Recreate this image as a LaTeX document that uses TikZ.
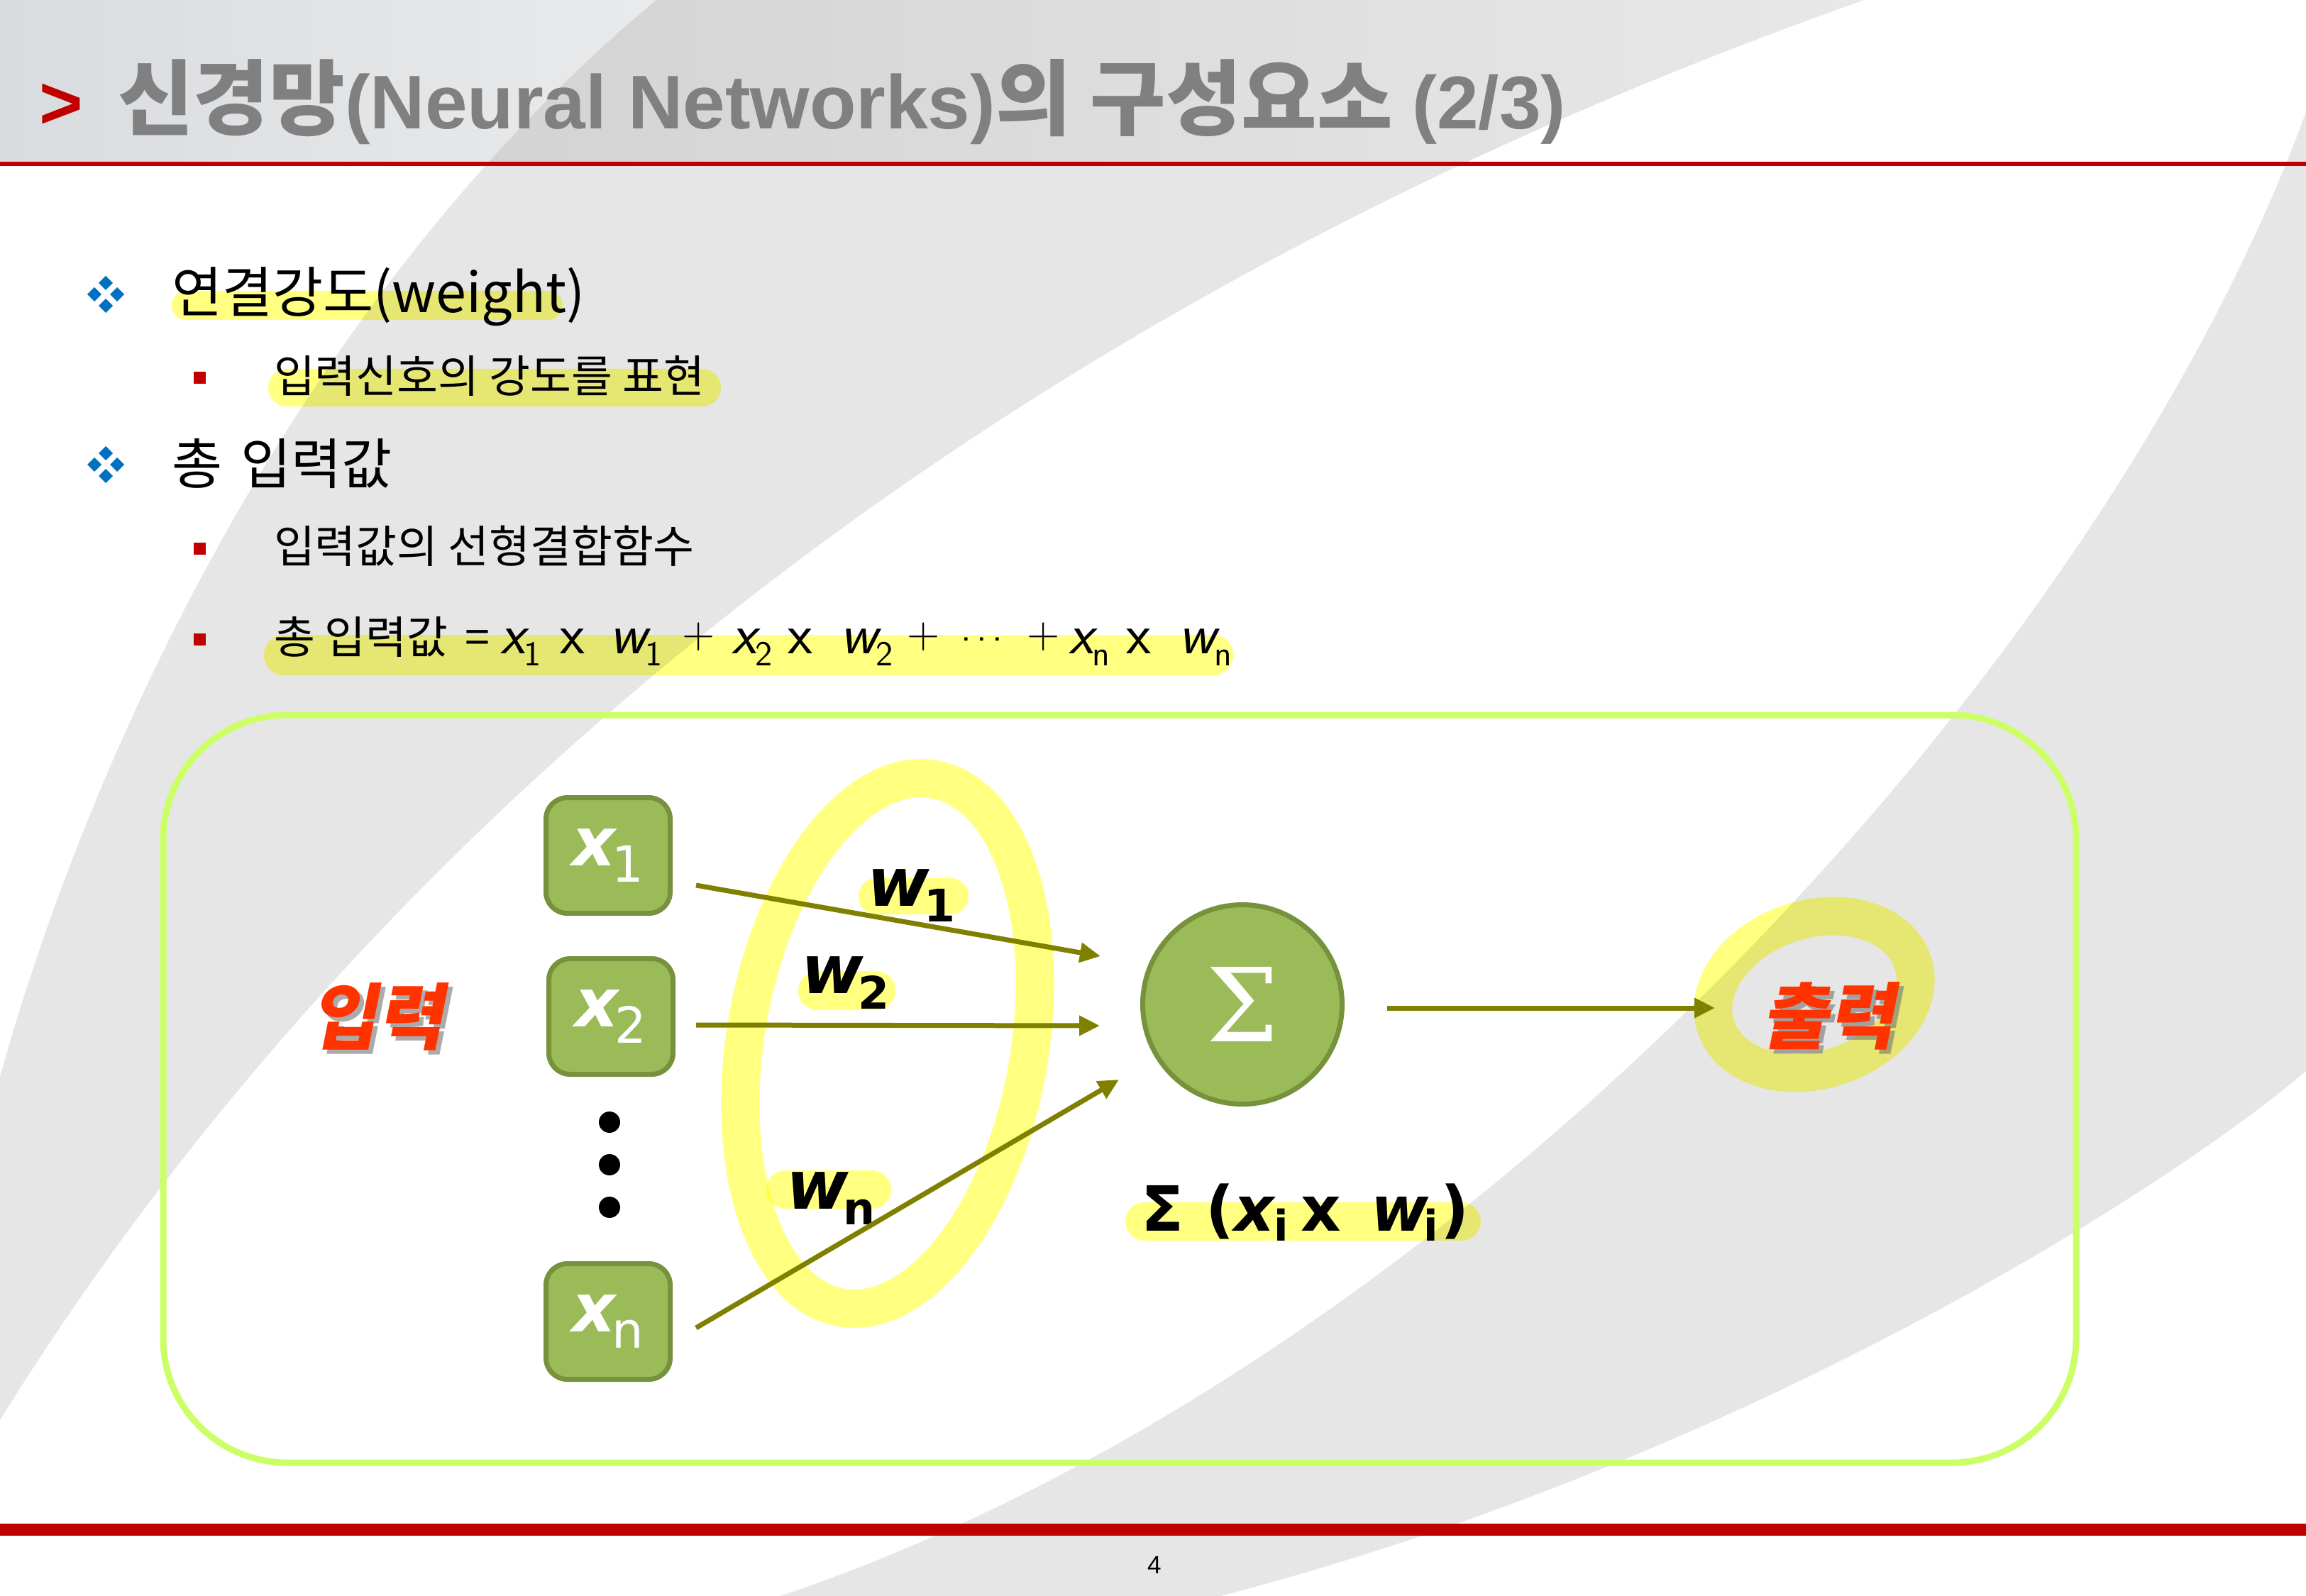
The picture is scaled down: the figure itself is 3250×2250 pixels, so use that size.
\documentclass[tikz,border=0pt]{standalone}
\usepackage{fontspec}
\usetikzlibrary{arrows.meta,calc}

\newfontfamily\kr{Noto Sans CJK KR}
\newfontfamily\krsl{Noto Sans CJK KR}[FakeSlant=0.2]
\newfontfamily\arialf{Liberation Sans}
\newfontfamily\dvs{DejaVu Sans}
\newfontfamily\dvserif{DejaVu Serif}

\newcommand{\fsz}[1]{\fontsize{#1}{#1}\selectfont}
% labels inside the green input boxes and on the weights
\newcommand{\xlab}[1]{{\fsz{27}\dvs\bfseries\itshape x}\kern-1.5pt\raisebox{-6.5pt}{\fsz{20}\dvs #1}}
\newcommand{\wlab}[1]{{\fsz{27}\dvs\bfseries\itshape w}\kern-2pt\raisebox{-6.5pt}{\fsz{18}\dvs\bfseries #1}}
% pieces of the weighted-sum formula
\newcommand{\fvar}[2]{{\fsz{23}\sffamily\itshape #1}\kern-0.5pt\raisebox{-5pt}{\fsz{14}\sffamily #2}}
\newcommand{\fmul}{{\fsz{23}\sffamily x}}
\newcommand{\fplus}{\raisebox{2pt}{\fsz{18}\sffamily +}}
\newcommand{\fdots}{\raisebox{5pt}{\fsz{16}\sffamily .\hspace{2.2pt}.\hspace{2.2pt}.}}

\definecolor{bandgray}{HTML}{E6E6E6}
\definecolor{hdrL}{HTML}{D9DCDF}
\definecolor{hdrR}{HTML}{ECEDEE}
\definecolor{slidered}{HTML}{C00000}
\definecolor{titlegray}{HTML}{808080}
\definecolor{bulletblue}{HTML}{0070C0}
\definecolor{hilite}{HTML}{FFFF80}
\definecolor{boxlime}{HTML}{CCFF66}
\definecolor{nodegreen}{HTML}{9BBB59}
\definecolor{nodeedge}{HTML}{76923C}
\definecolor{arrowolive}{HTML}{808000}
\definecolor{labelred}{HTML}{FF3300}

\tikzset{
  txt/.style={inner sep=0pt, outer sep=0pt},
  hl/.style={fill=hilite, blend mode=multiply},
  ring/.style={draw=hilite, line width=5.4mm, blend mode=multiply},
  arr/.style={draw=arrowolive, line width=0.7mm, -{Triangle[length=2.9mm,width=2.7mm]}},
  inbox/.style={draw=nodeedge, fill=nodegreen, line width=0.7mm, rounded corners=3mm,
    minimum width=17.5mm, minimum height=16.3mm, inner sep=0pt, text=white},
  sumnode/.style={circle, draw=nodeedge, fill=nodegreen, line width=0.7mm,
    minimum size=28.1mm, inner sep=0pt, text=white},
  dotnode/.style={circle, fill=black, minimum size=3mm, inner sep=0pt},
  qd/.pic={
    \foreach \dx/\dy in {0/-16,-16/0,16/0,0/16}
      \fill[bulletblue] (\dx,\dy-10) -- (\dx+10,\dy) -- (\dx,\dy+10) -- (\dx-10,\dy) -- cycle;
  },
  sq/.pic={\fill[slidered] (-8.5,-8.5) rectangle (8.5,8.5);}
}

\begin{document}
\begin{tikzpicture}[x=0.1mm,y=-0.1mm]
\useasboundingbox (0,0) rectangle (3250,2250);
\fill[white] (0,0) rectangle (3250,2250);

% ---- background ----
\shade[left color=hdrL, right color=hdrR] (0,0) rectangle (1100,228);
\fill[bandgray] (925,0) .. controls (445,400) and (140,1018) .. (0,1518)
  -- (0,2002) .. controls (372,1400) and (1150,520) .. (2627,0) -- cycle;
\begin{scope}
  \clip (0,0) rectangle (3250,228);
  \shade[left color=black!20, right color=black!9]
    (925,0) .. controls (445,400) and (140,1018) .. (0,1518)
    -- (0,2002) .. controls (372,1400) and (1150,520) .. (2627,0) -- cycle;
\end{scope}
\fill[bandgray] (3250,158) .. controls (2960,950) and (2050,1930) .. (1100,2250)
  -- (1720,2250) .. controls (2450,2060) and (3050,1680) .. (3250,1510) -- cycle;

% ---- header and footer rules ----
\fill[slidered] (0,228) rectangle (3250,234);
\fill[slidered] (0,2148) rectangle (3250,2165);

% ---- title ----
\node[txt, anchor=base west, text=slidered] (chev) at (56,182)
  {\fsz{30}\arialf\bfseries >};
\node[txt, anchor=base west, text=titlegray] (title) at (166,182)
  {\bfseries{\fsz{33}\kr 신경망}{\fsz{30.5}\arialf (Neural Networks)}{\fsz{33}\kr 의 구성요소 }{\fsz{30}\arialf (2/3)}};

% ---- text highlights ----
\fill[hl, rounded corners=2mm]   (242,410) rectangle (793,451);
\fill[hl, rounded corners=2.6mm] (378,520) rectangle (1016,573);
\fill[hl, rounded corners=2.8mm] (372,895) rectangle (1738,952);

% ---- bullets ----
\pic at (149,415) {qd};
\pic at (149,655) {qd};
\pic at (281,533) {sq};
\pic at (281,773) {sq};
\pic at (281,901) {sq};

% ---- bullet texts ----
\node[txt, anchor=base west] (l1) at (242,441) {\fsz{22}\kr 연결강도(weight)};
\node[txt, anchor=base west] (l1a) at (386,553) {\fsz{17.9}\kr 입력신호의 강도를 표현};
\node[txt, anchor=base west] (l2) at (242,682) {\fsz{22}\kr 총\hspace{0.12em} 입력값};
\node[txt, anchor=base west] (l2a) at (386,793) {\fsz{17.9}\kr 입력값의 선형결합함수};
\foreach \px/\tok [count=\i] in {
    386/{\fsz{17.9}\kr 총 입력값},
    655/{\fsz{17.9}\kr =},
    705/{\fvar{x}{1}},
    789/{\fmul},
    859/{\fvar{w}{1}},
    961/{\fplus},
    1031/{\fvar{x}{2}},
    1110/{\fmul},
    1184/{\fvar{w}{2}},
    1278/{\fplus},
    1354/{\fdots},
    1447/{\fplus},
    1506/{\fvar{x}{n}},
    1587/{\fmul},
    1661/{\fvar{w}{n}}}
  \node[txt, anchor=base west] (fm\i) at (\px,921) {\tok};

% ---- diagram frame ----
\draw[boxlime, line width=0.9mm, rounded corners=17.5mm] (230,1008) rectangle (2926,2062);

% ---- yellow rings and weight highlights ----
\draw[ring, rotate around={-10:(1251,1471)}] (1251,1471) ellipse [x radius=200, y radius=378];
\draw[ring, rotate around={18:(2557,1402)}] (2557,1402) ellipse [x radius=146, y radius=106];
\fill[hl, rounded corners=2.5mm] (1210,1238) rectangle (1365,1289);
\fill[hl, rounded corners=2.7mm] (1125,1369) rectangle (1262,1424);
\fill[hl, rounded corners=2.7mm] (1080,1650) rectangle (1256,1704);
\fill[hl, rounded corners=2.7mm] (1586,1695) rectangle (2087,1749);

% ---- nodes ----
\node[inbox] (x1) at (857,1206) {\xlab{1}};
\node[inbox] (x2) at (861,1433) {\xlab{2}};
\node[inbox] (xn) at (857,1863) {\xlab{n}};
\node[dotnode] (d1) at (859,1582) {};
\node[dotnode] (d2) at (859,1642) {};
\node[dotnode] (d3) at (859,1702) {};
\node[sumnode] (sig) at (1751,1416) {\fsz{41}\dvserif Σ};

\node[txt, anchor=base west] (w1) at (1222,1277) {\wlab{1}};
\node[txt, anchor=base west] (w2) at (1129,1400) {\wlab{2}};
\node[txt, anchor=base west] (wn) at (1108,1704) {\wlab{n}};

\node[txt, anchor=base west] (sumlab) at (1608,1735)
  {\fsz{25}\dvs\bfseries Σ\hspace{9pt}(\textit{x}\kern-1pt\raisebox{-4pt}{\fsz{17}i}\hspace{5pt}x\hspace{12pt}\textit{w}\kern-2pt\raisebox{-4pt}{\fsz{17}i}\kern1pt)};

% ---- input / output labels with drop shadow ----
\node[txt, text=black!55, opacity=0.6] (inshadow) at (537,1439) {\fsz{29}\krsl\bfseries 입력};
\node[txt, text=labelred] (inlabel) at (531,1433) {\fsz{29}\krsl\bfseries 입력};
\node[txt, text=black!55, opacity=0.6] (outshadow) at (2582,1438) {\fsz{29}\krsl\bfseries 출력};
\node[txt, text=labelred] (outlabel) at (2576,1432) {\fsz{29}\krsl\bfseries 출력};

% ---- connectors ----
\draw[arr] ([shift={(33,42)}]x1.east) -- ([shift={(-56,-68)}]sig.west);
\draw[arr] ([shift={(29,12)}]x2.east) -- ([shift={(-57,30)}]sig.west);
\draw[arr] ([shift={(33,9)}]xn.east) -- ([shift={(-30,106)}]sig.west);
\coordinate (outtip) at (2417,1421);
\draw[arr] ([shift={(60,5)}]sig.east) -- (outtip);

% ---- page number ----
\node[txt] (pagenum) at (1627,2206) {\fsz{10}\arialf 4};
\end{tikzpicture}
\end{document}
